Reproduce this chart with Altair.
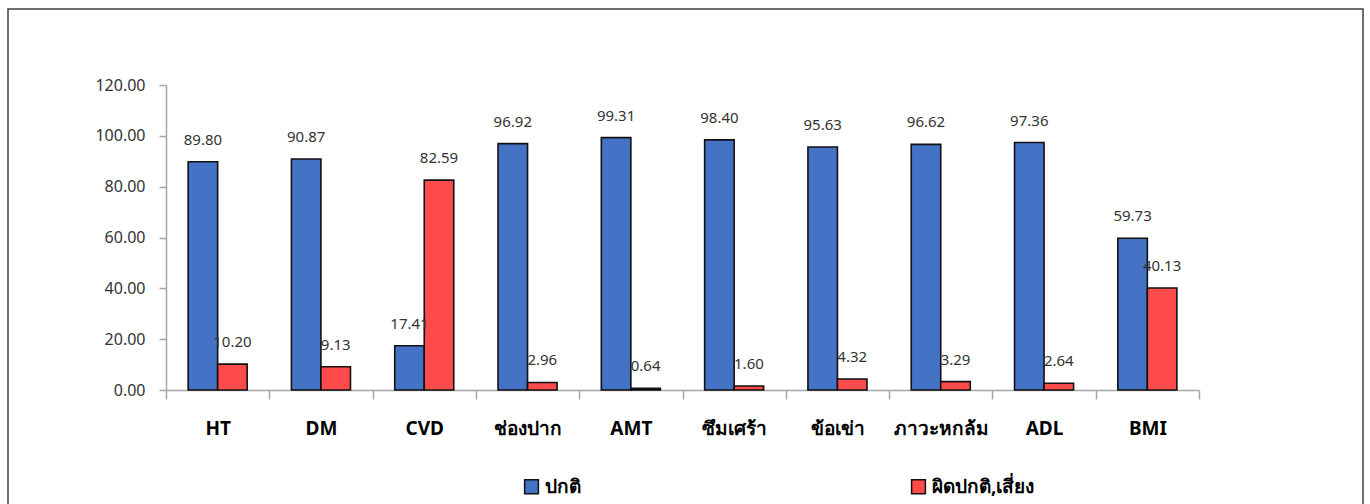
import altair as alt
import pandas as pd

# Screening results by topic, percentages per group
categories = ["HT", "DM", "CVD", "ช่องปาก", "AMT", "ซึมเศร้า", "ข้อเข่า", "ภาวะหกล้ม", "ADL", "BMI"]
normal = [89.80, 90.87, 17.41, 96.92, 99.31, 98.40, 95.63, 96.62, 97.36, 59.73]
abnormal = [10.20, 9.13, 82.59, 2.96, 0.64, 1.60, 4.32, 3.29, 2.64, 40.13]
groups = ["ปกติ", "ผิดปกติ,เสี่ยง"]
colors = ["#4472C4", "#FF4B4B"]
y_ticks = [0, 20, 40, 60, 80, 100, 120]

rows = []
for c, a, b in zip(categories, normal, abnormal):
    rows.append({"topic": c, "group": groups[0], "value": a})
    rows.append({"topic": c, "group": groups[1], "value": b})
df = pd.DataFrame(rows)

W, H = 1033, 305
PAD_L, PAD_T = 166, 85

x_enc = alt.X(
    "topic:N",
    sort=categories,
    scale=alt.Scale(paddingInner=0, paddingOuter=0),
    axis=alt.Axis(
        title=None,
        labelAngle=0,
        labelFont="Noto Sans",
        labelFontSize=19,
        labelFontWeight="bold",
        labelColor="#000000",
        labelPadding=20,
        tickBand="extent",
        tickSize=9,
        tickColor="#A6A6A6",
        domainColor="#A6A6A6",
        domainWidth=1.5,
        tickWidth=1.5,
    ),
)
y_enc = alt.Y(
    "value:Q",
    scale=alt.Scale(domain=[0, 120], nice=False),
    axis=alt.Axis(
        title=None,
        values=y_ticks,
        format=".2f",
        grid=False,
        labelFont="Noto Sans",
        labelFontSize=16,
        labelColor="#333333",
        labelPadding=14,
        tickSize=7,
        tickColor="#A6A6A6",
        domainColor="#A6A6A6",
        domainWidth=1.5,
        tickWidth=1.5,
    ),
)
# Two bars per topic, centred in the band with empty space on either side
off_scale = alt.Scale(paddingInner=0, paddingOuter=0.75)

bars = alt.Chart(df).mark_bar(stroke="#111111", strokeWidth=1.6).encode(
    x=x_enc,
    xOffset=alt.XOffset("group:N", sort=groups, scale=off_scale),
    y=y_enc,
    color=alt.Color(
        "group:N",
        sort=groups,
        scale=alt.Scale(domain=groups, range=colors),
        legend=alt.Legend(
            title=None,
            orient="none",
            legendX=356,
            legendY=392,
            direction="horizontal",
            columns=2,
            columnPadding=327,
            symbolType="square",
            symbolSize=190,
            symbolStrokeColor="#111111",
            symbolStrokeWidth=1.5,
            symbolOpacity=1,
            labelFont="Noto Sans",
            labelFontSize=19,
            labelFontWeight="bold",
            labelColor="#000000",
            labelOffset=4,
            padding=0,
        ),
    ),
)

labels = alt.Chart(df).mark_text(
    dy=-22, font="Noto Sans", fontSize=15, color="#333333"
).encode(
    x=alt.X("topic:N", sort=categories),
    xOffset=alt.XOffset("group:N", sort=groups, scale=off_scale),
    y="value:Q",
    text=alt.Text("value:Q", format=".2f"),
)

# Outer frame around the whole chart
frame = alt.Chart(alt.Data(values=[{"f": 1}])).mark_rect(
    filled=False, stroke="#404040", strokeWidth=1.5
).encode(
    x=alt.value(8 - PAD_L),
    x2=alt.value(1363 - PAD_L),
    y=alt.value(9 - PAD_T),
    y2=alt.value(520 - PAD_T),
)

chart = (
    alt.layer(frame, bars, labels)
    .properties(
        width=W,
        height=H,
        autosize=alt.AutoSizeParams(type="none"),
        padding={"left": PAD_L, "top": PAD_T, "right": 1370 - PAD_L - W, "bottom": 504 - PAD_T - H},
        background="#FFFFFF",
    )
    .configure_view(stroke=None)
)

chart.save("out.html", embed_options={"renderer": "svg", "actions": False})
